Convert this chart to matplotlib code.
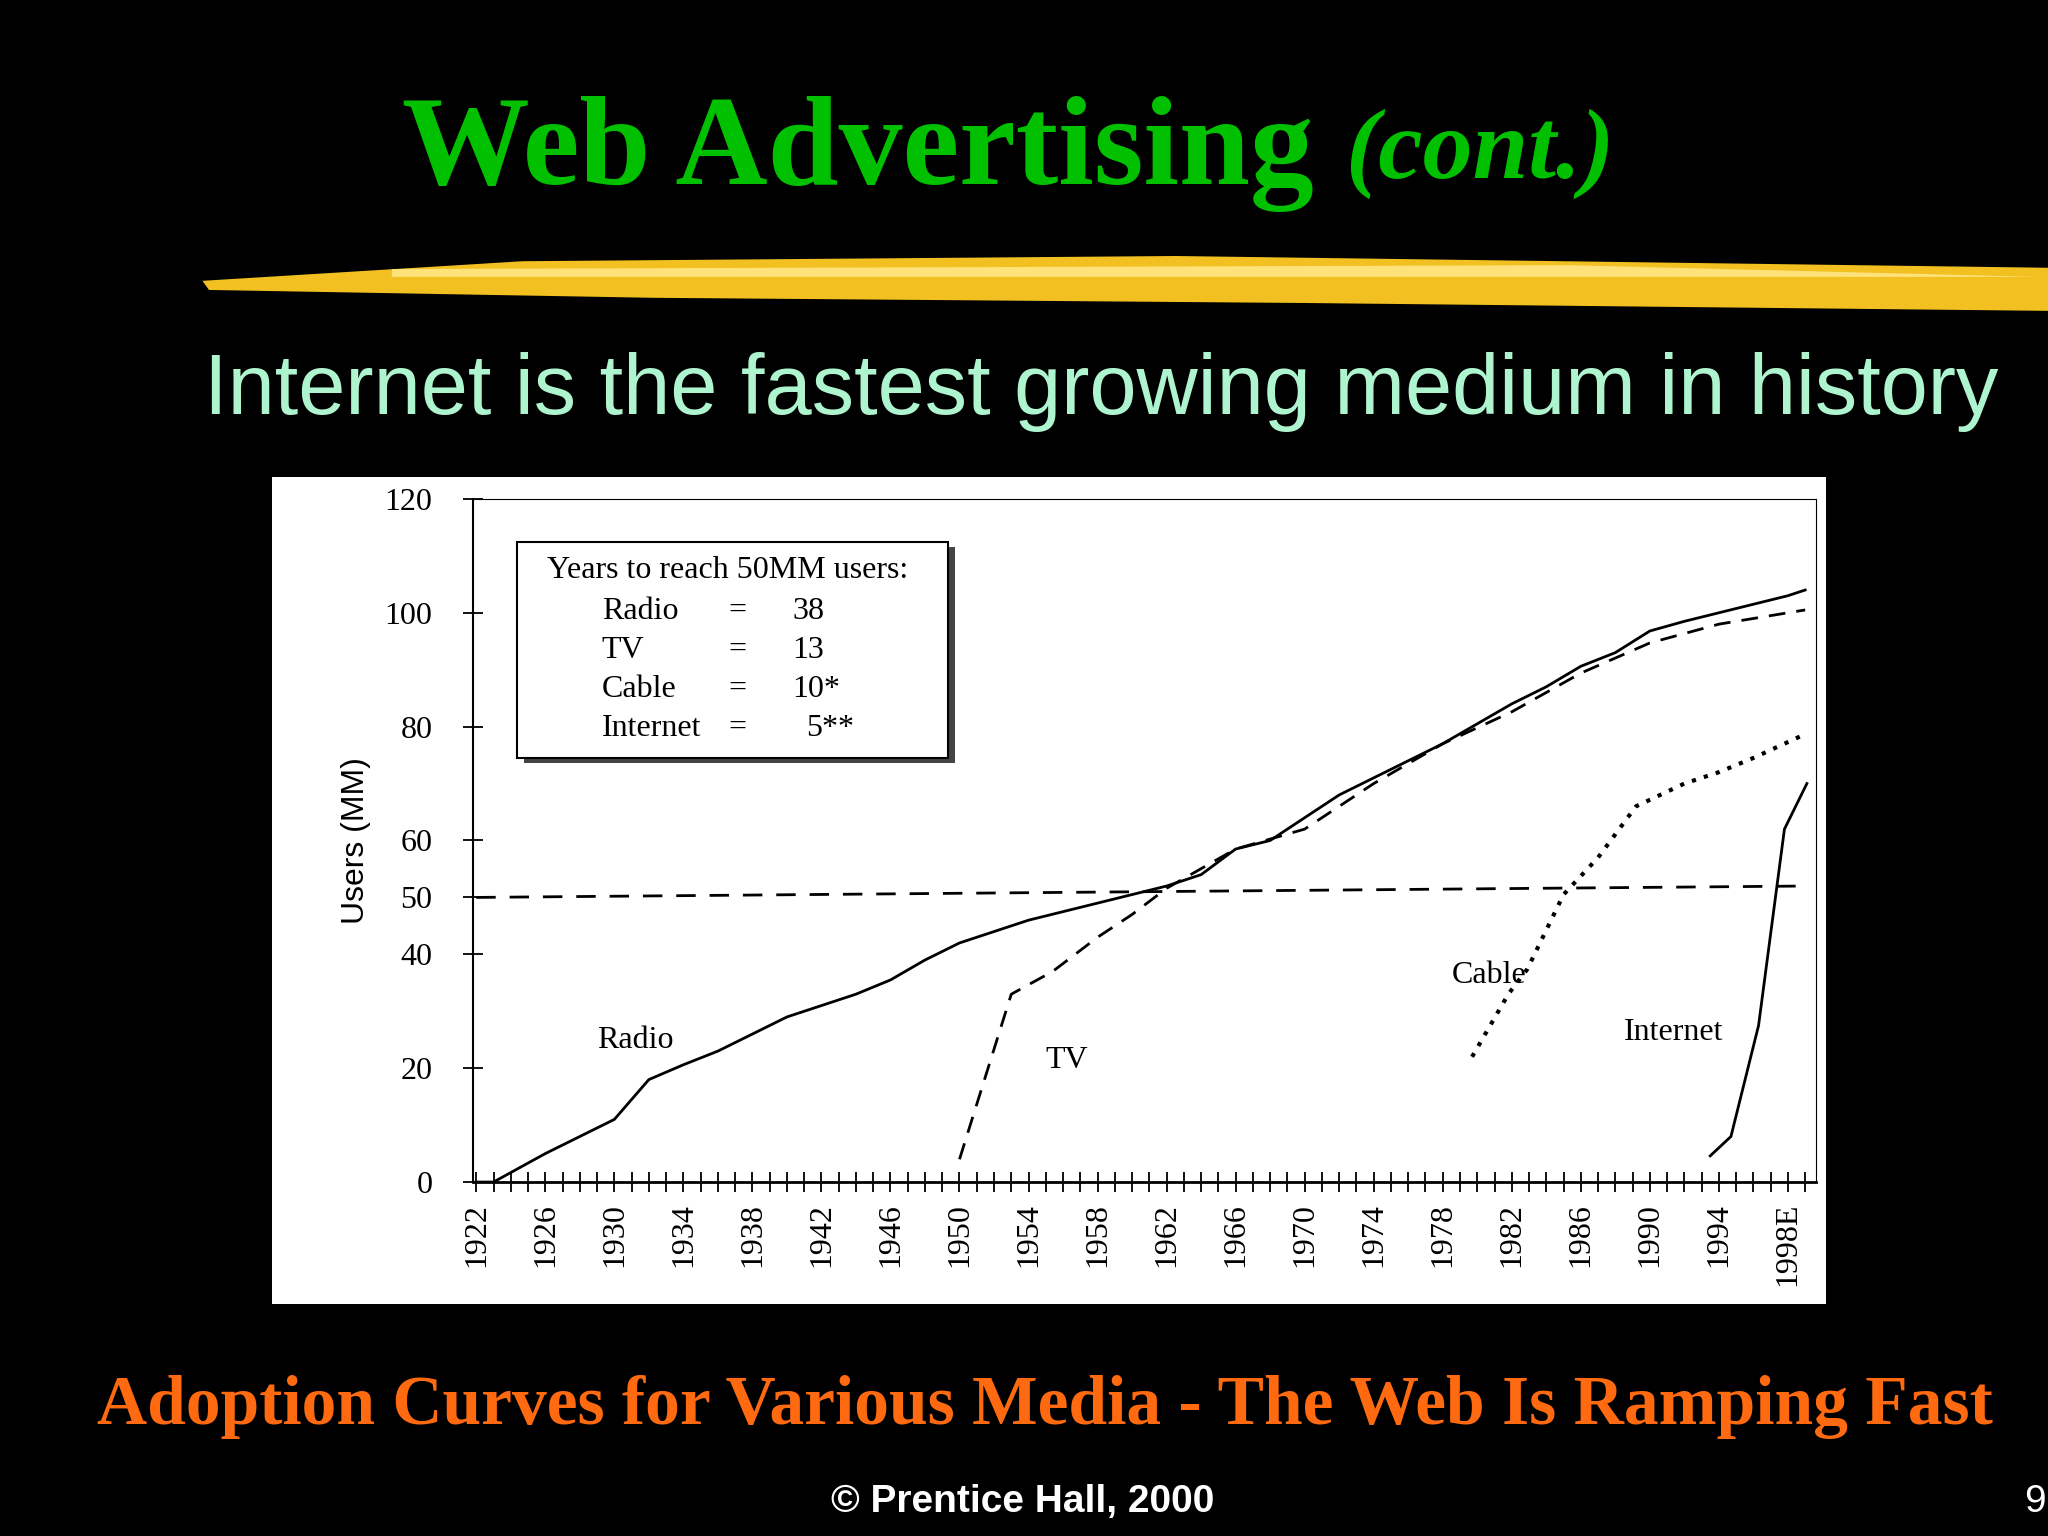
import matplotlib
matplotlib.use("Agg")
import matplotlib.pyplot as plt
from matplotlib.patches import Rectangle, Polygon

radio_years = [1922, 1923, 1926, 1928, 1930, 1932, 1934, 1936, 1938, 1940, 1942, 1944, 1946, 1948, 1950, 1952, 1954, 1956, 1958, 1960, 1962, 1964, 1966, 1968, 1970, 1972, 1974, 1976, 1978, 1980, 1982, 1984, 1986, 1988, 1990, 1992, 1994, 1996, 1998, 1999]
radio_vals = [0, 0, 5, 8, 11, 18, 20.6, 23, 26, 29, 31, 33, 35.5, 39, 42, 44, 46, 47.5, 49, 50.5, 52, 54, 58.5, 60, 64, 68, 71, 74, 77, 80.5, 84, 87, 90.6, 93, 96.8, 98.5, 100, 101.5, 103, 104]
tv_years = [1950, 1953, 1955.4, 1958, 1960, 1962, 1966, 1970, 1974, 1978, 1982, 1986, 1990, 1994, 1998, 1999]
tv_vals = [4, 33, 37, 43, 47, 51.6, 58.5, 62, 70, 77, 82.6, 89.4, 94.7, 98, 100, 100.5]
cable_years = [1979.7, 1981.8, 1982.9, 1985, 1987, 1989.2, 1992, 1994, 1996, 1998.8]
cable_vals = [22, 33, 37.4, 50.5, 57, 66, 70, 72, 74.5, 78.4]
internet_years = [1993.5, 1994.7, 1996.3, 1997.8, 1999.1]
internet_vals = [4.6, 8, 27.5, 62, 70]
ref_years = [1922, 1999]
ref_vals = [50, 52]
tick_years = list(range(1922, 1999, 4))
tick_labels = [str(y) for y in tick_years[:-1]] + ["1998E"]
yticks = [0, 20, 40, 50, 60, 80, 100, 120]
legend_lines = [("Radio", "=", "38"), ("TV", "=", "13"), ("Cable", "=", "10*"), ("Internet", "=", "5**")]

W, H = 1568, 1176
fig = plt.figure(figsize=(20.48, 15.36), dpi=100)
fig.patch.set_facecolor("black")

def fx(x): return x / W
def fy(y): return 1 - y / H

SERIF = "Liberation Serif"
FS = 23

fig.text(fx(1030), fy(118), "Web Advertising ", color="#00c000", fontsize=92, fontweight="bold",
         family=SERIF, ha="right", va="center")
fig.text(fx(1030), fy(118), "(cont.)", color="#00c000", fontsize=72, fontweight="bold", style="italic",
         family=SERIF, ha="left", va="center")
fig.patches.append(Polygon([(fx(155), fy(215)), (fx(400), fy(200)), (fx(900), fy(196)), (fx(1568), fy(205)),
                            (fx(1568), fy(238)), (fx(1000), fy(232)), (fx(500), fy(228)), (fx(160), fy(222))],
                           closed=True, transform=fig.transFigure, facecolor="#f2c020", edgecolor="none"))
fig.patches.append(Polygon([(fx(300), fy(206)), (fx(1200), fy(203)), (fx(1560), fy(212)), (fx(1200), fy(212)), (fx(300), fy(212))],
                           closed=True, transform=fig.transFigure, facecolor="#ffe27a", edgecolor="none"))
fig.text(fx(843), fy(300), "Internet is the fastest growing medium in history", color="#aef5cf",
         fontsize=61, family="Liberation Sans", ha="center", va="center")

bg = fig.add_axes([fx(208), fy(998), fx(1398 - 208), (998 - 365) / H], zorder=0)
bg.set_facecolor("white")
bg.set_xticks([]); bg.set_yticks([])
for s in bg.spines.values():
    s.set_visible(False)

ax = fig.add_axes([fx(362), fy(905), fx(1390 - 362), (905 - 382) / H], zorder=1)
ax.set_facecolor("white")
ax.plot(radio_years, radio_vals, color="black", lw=2)
ax.plot(tv_years, tv_vals, color="black", lw=2, ls=(0, (6, 4)))
ax.plot(cable_years, cable_vals, color="black", lw=3, ls=(0, (1, 2)))
ax.plot(internet_years, internet_vals, color="black", lw=2)
ax.plot(ref_years, ref_vals, color="black", lw=2, ls=(0, (7, 5)))
ax.set_xlim(1921.8, 1999.6)
ax.set_ylim(0, 120)
ax.set_yticks(yticks)
ax.set_yticklabels([str(v) for v in yticks], family=SERIF, fontsize=FS)
ax.set_xticks(tick_years)
ax.set_xticklabels(tick_labels, rotation=90, family=SERIF, fontsize=FS)
ax.set_xticks(range(1922, 2000), minor=True)
ax.tick_params(axis="x", which="both", direction="inout", length=14, width=1.3, pad=8)
ax.tick_params(axis="y", direction="inout", length=14, width=1.3, pad=22)
ax.spines["left"].set_linewidth(1.5)
ax.spines["bottom"].set_linewidth(2)
ax.set_ylabel("Users (MM)", family="Liberation Sans", fontsize=FS, labelpad=10)

ax.text(1929, 23.5, "Radio", family=SERIF, fontsize=FS)
ax.text(1955, 20, "TV", family=SERIF, fontsize=FS)
ax.text(1978.5, 35, "Cable", family=SERIF, fontsize=FS)
ax.text(1988.5, 25, "Internet", family=SERIF, fontsize=FS)

ax.add_patch(Rectangle((0.038, 0.613), 0.321, 0.316, transform=ax.transAxes, facecolor="#444444", edgecolor="none"))
ax.add_patch(Rectangle((0.033, 0.621), 0.321, 0.316, transform=ax.transAxes, facecolor="white", edgecolor="black", lw=1.5))
ax.text(0.055, 0.895, "Years to reach 50MM users:", transform=ax.transAxes, family=SERIF, fontsize=FS, va="center")
for i, (n, e, v) in enumerate(legend_lines):
    y = 0.835 - i * 0.057
    ax.text(0.096, y, n, transform=ax.transAxes, family=SERIF, fontsize=FS, va="center")
    ax.text(0.19, y, e, transform=ax.transAxes, family=SERIF, fontsize=FS, va="center")
    ax.text(0.238 + (0.01 if i == 3 else 0), y, v, transform=ax.transAxes, family=SERIF, fontsize=FS, va="center")

fig.text(fx(800), fy(1077), "Adoption Curves for Various Media - The Web Is Ramping Fast", color="#ff6a10",
         fontsize=50, fontweight="bold", family=SERIF, ha="center", va="center")
fig.text(fx(783), fy(1150), "© Prentice Hall, 2000", color="white", fontsize=28, fontweight="bold",
         family="Liberation Sans", ha="center", va="center")
fig.text(fx(1558), fy(1150), "9", color="white", fontsize=28, family="Liberation Sans", ha="center", va="center")

fig.savefig("out.png", dpi=100, facecolor="black")
